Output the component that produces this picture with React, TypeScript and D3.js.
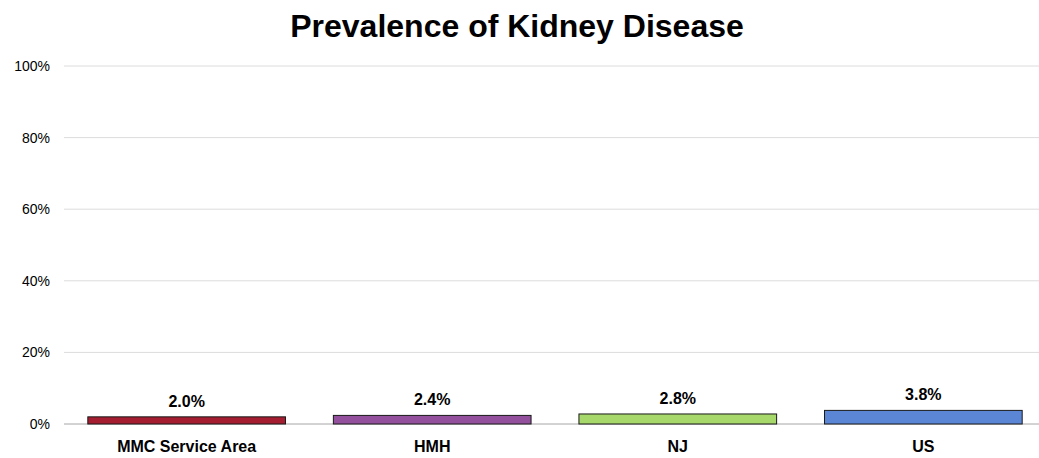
import React from 'react'
import * as d3 from 'd3'

const categories = ['MMC Service Area', 'HMH', 'NJ', 'US']
const values = [2.0, 2.4, 2.8, 3.8]
const colors = ['#a51d31', '#93509d', '#a6d86b', '#5b86d6']
const yTicks = [0, 20, 40, 60, 80, 100]

const W = 1039
const H = 458
const margin = { top: 66, right: -7, bottom: 34, left: 64 }
const font = 'Liberation Sans, Arial, sans-serif'

export default function App() {
  const innerW = W - margin.left - margin.right
  const innerH = H - margin.top - margin.bottom

  const x = d3.scaleBand<string>().domain(categories).range([0, innerW]).paddingInner(0.195).paddingOuter(0.097)
  const y = d3.scaleLinear().domain([0, 100]).range([innerH, 0])

  return (
    <svg width={W} height={H} style={{ position: 'absolute', left: 0, top: 0, background: '#fff' }}>
      <text x={517} y={37} textAnchor="middle" fontFamily={font} fontWeight="bold" fontSize={32} fill="#000">
        Prevalence of Kidney Disease
      </text>
      <g transform={`translate(${margin.left},${margin.top})`}>
        {yTicks.map(t => (
          <g key={t}>
            <line x1={0} x2={innerW} y1={y(t)} y2={y(t)} stroke={t === 0 ? '#a6a6a6' : '#dcdcdc'} strokeWidth={1} />
            <text x={-14} y={y(t)} dy="0.35em" textAnchor="end" fontFamily={font} fontSize={14} fill="#000">
              {t}%
            </text>
          </g>
        ))}
        {categories.map((c, i) => (
          <g key={c}>
            <rect
              x={x(c)}
              y={y(values[i])}
              width={x.bandwidth()}
              height={innerH - y(values[i])}
              fill={colors[i]}
              stroke="#1a1a1a"
              strokeWidth={1}
            />
            <text x={(x(c) ?? 0) + x.bandwidth() / 2} y={y(values[i]) - 10} textAnchor="middle" fontFamily={font} fontWeight="bold" fontSize={16} fill="#000">
              {values[i].toFixed(1)}%
            </text>
            <text x={(x(c) ?? 0) + x.bandwidth() / 2} y={innerH + 28} textAnchor="middle" fontFamily={font} fontWeight="bold" fontSize={16} fill="#000">
              {c}
            </text>
          </g>
        ))}
      </g>
    </svg>
  )
}
